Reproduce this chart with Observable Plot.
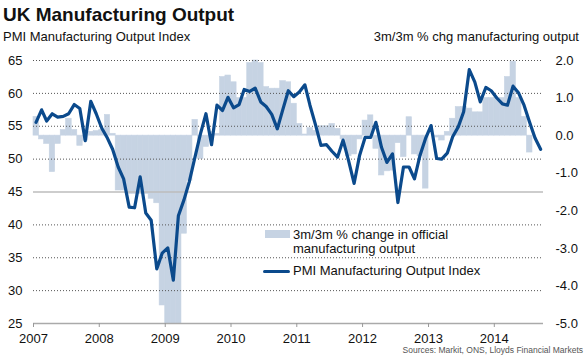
<!DOCTYPE html>
<html><head><meta charset="utf-8">
<script src="https://cdn.jsdelivr.net/npm/d3@7"></script>
<script src="https://cdn.jsdelivr.net/npm/@observablehq/plot@0.6"></script>
<style>
body{margin:0;background:#fff;font-family:"Liberation Sans",Arial,sans-serif;color:#111;}
#wrap{position:relative;width:586px;height:355px;overflow:hidden;}
#head{position:relative;height:46px;}
.t{position:absolute;white-space:nowrap;}
</style></head><body>
<div id="wrap">
 <div id="head">
  <div class="t" style="left:3px;top:5px;font-size:19px;font-weight:bold;line-height:20px">UK Manufacturing Output</div>
  <div class="t" style="left:3px;top:30px;font-size:13px;line-height:14px">PMI Manufacturing Output Index</div>
  <div class="t" style="right:7px;top:30px;font-size:13px;line-height:14px">3m/3m % chg manufacturing output</div>
 </div>
 <div id="chart"></div>
 <div class="t" id="sw1" style="left:265px;top:230px;width:25px;height:7.5px"></div>
 <div class="t" id="sw2" style="left:263px;top:269.5px;width:27px;height:3.5px;border-radius:2px"></div>
 <div class="t" style="left:293px;top:227.7px;font-size:13px;line-height:14px">3m/3m % change in official<br>manufacturing output</div>
 <div class="t" style="left:293px;top:263.7px;font-size:13px;line-height:14px">PMI Manufacturing Output Index</div>
 <div class="t" style="right:3px;top:346.2px;font-size:8.5px;line-height:8.5px;color:#555">Sources: Markit, ONS, Lloyds Financial Markets</div>
</div>
<script>
// PMI Manufacturing Output Index, monthly Jan 2007 - Sep 2014
const pmi = [
  55.6, 57.5, 55.8, 56.9, 56.4, 56.5, 56.9, 58.3, 57.7, 52.8, 58.8, 56.9,
  54.7, 53.2, 51.5, 48.8, 47.0, 42.7, 42.6, 47.3, 41.8, 40.7, 33.3, 35.7,
  36.5, 31.6, 41.4, 43.8, 46.6, 50.3, 53.8, 56.9, 52.2, 58.2, 57.4, 59.4,
  57.8, 58.3, 60.6, 60.3, 60.8, 58.7, 58.0, 56.8, 54.6, 57.5, 60.4, 59.5,
  60.2, 61.3, 58.2, 55.2, 52.1, 52.2, 51.2, 50.3, 52.9, 49.8, 46.3, 50.5,
  53.3, 53.3, 55.6, 51.8, 49.5, 50.8, 43.4, 48.8, 48.8, 47.0, 50.6, 53.1,
  55.1, 50.1, 50.0, 50.9, 53.4, 54.9, 57.2, 63.6, 61.7, 58.7, 60.9, 60.4,
  59.3, 58.4, 58.2, 61.1, 60.1, 58.2, 55.7, 53.2, 51.5
];
// 3m/3m % change in official manufacturing output, monthly Jan 2007 - Jul 2014
const chg = [
  0.5, -0.1, -0.22, -0.97, -0.22, 0.15, 0.45, 0.15, -0.27, -0.13, 0.1, 0.12,
  0.15, 0.55, 0.05, -1.46, -1.46, -1.55, -1.55, -1.55, -1.55, -1.68, -1.8, -4.52,
  -5.6, -6.0, -5.5, -2.61, -1.2, 0.42, -0.62, -0.3, 0.1, 0.05, 1.56, 1.6,
  1.42, 1.0, 1.0, 1.93, 2.0, 1.93, 1.29, 1.25, 1.25, 1.45, 1.42, 0.85,
  0.31, 0.03, 0.2, 0.13, 0.25, 0.25, 0.31, 0.18, -0.1, -0.55, -0.5, -0.1,
  0.4, 0.54, -0.35, -1.06, -0.95, -0.93, -0.2, -0.57, 0.49, -0.5, -0.55, -1.41,
  0.0, -0.05, -0.13, 0.1, 0.45, 0.76, 0.76, 0.72, 0.62, 0.62, 1.0, 1.0,
  1.0, 1.0, 1.56, 1.97, 1.0, 0.5, -0.45
];
const years = [2007, 2008, 2009, 2010, 2011, 2012, 2013, 2014];
const leftTicks = [25, 30, 35, 40, 45, 50, 55, 60, 65];
const rightTicks = [-5, -4, -3, -2, -1, 0, 1, 2];
const gridDotted = [30, 35, 40, 50, 55, 60, 65];

const BAR = "#c6d3e3", LINE = "#0b4a8c";
document.getElementById("sw1").style.background = BAR;
document.getElementById("sw2").style.background = LINE;

// map right-axis values onto the left scale
const toLeft = v => 25 + (Math.max(v, -5) + 5) * 40 / 7;
const fromLeft = y => { const r = Math.round(((y - 25) * 7 / 40 - 5) * 10) / 10; return (r === 0 ? 0 : r).toFixed(1); };

const lineData = pmi.map((v, i) => ({date: new Date(Date.UTC(2007, i, 15)), v}));
const barData = chg.map((v, i) => ({
  x1: new Date(Date.UTC(2007, i, 1)), x2: new Date(Date.UTC(2007, i + 1, 1)),
  y1: toLeft(0), y2: toLeft(v)
}));

const chart = Plot.plot({
  width: 586, height: 309,
  marginTop: 14, marginBottom: 32, marginLeft: 33, marginRight: 43,
  style: {fontFamily: '"Liberation Sans", Arial, sans-serif', fontSize: "13px", color: "#111", background: "#fff"},
  x: {type: "utc", domain: [new Date(Date.UTC(2007, 0, 1)), new Date(Date.UTC(2014, 9, 1))]},
  y: {domain: [25, 65]},
  marks: [
    Plot.rect(barData, {x1: "x1", x2: "x2", y1: "y1", y2: "y2", fill: BAR, stroke: BAR, strokeWidth: 0.6}),
    Plot.ruleY(gridDotted, {stroke: "#555", strokeDasharray: "1,2", strokeWidth: 1}),
    Plot.ruleY([45], {stroke: "#bdbdbd", strokeWidth: 1.5}),
    Plot.ruleY([25], {stroke: "#aaa", strokeWidth: 1.5}),
    Plot.axisX({ticks: years.map(y => new Date(Date.UTC(y, 0, 1))), tickFormat: d3.utcFormat("%Y"),
      tickSize: 4, tickPadding: 6.5, stroke: "#999", fontSize: 13, label: null}),
    Plot.axisY({anchor: "left", ticks: leftTicks, tickSize: 0, tickPadding: 11, fontSize: 13, label: null}),
    Plot.axisY({anchor: "right", ticks: rightTicks.map(toLeft), tickFormat: fromLeft, tickSize: 0,
      tickPadding: 12, textAnchor: "start", fontSize: 13, label: null}),
    Plot.line(lineData, {x: "date", y: "v", stroke: LINE, strokeWidth: 3.2, strokeLinejoin: "round", strokeLinecap: "round"})
  ]
});
document.getElementById("chart").appendChild(chart);
</script>
</body></html>
